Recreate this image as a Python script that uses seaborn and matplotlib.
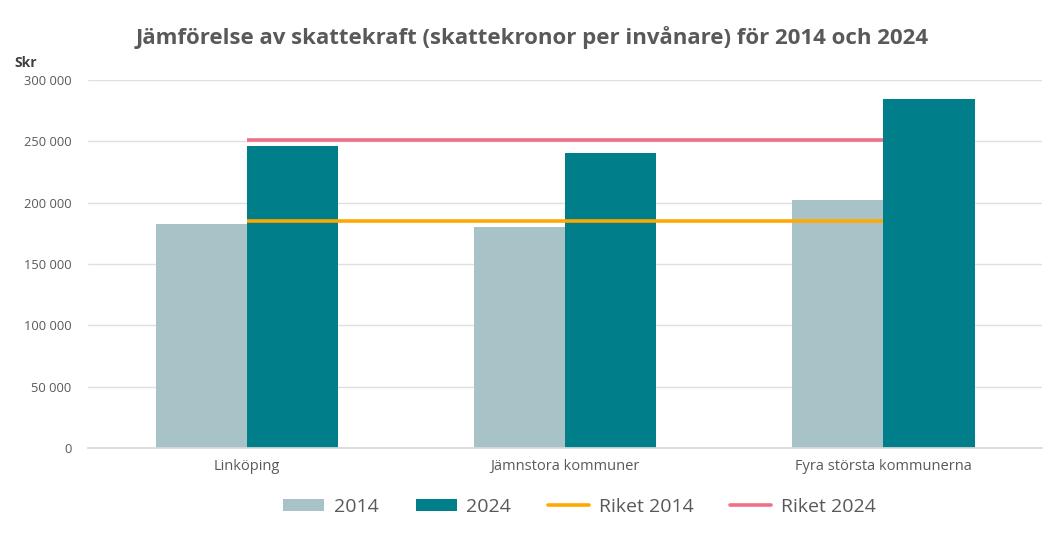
import pandas as pd
import seaborn as sns
import matplotlib.pyplot as plt
from matplotlib.ticker import FuncFormatter
from matplotlib.patches import Patch
from matplotlib.lines import Line2D

# data
categories = ['Linköping', 'Jämnstora kommuner', 'Fyra största kommunerna']
years = ['2014', '2024']
values_2014 = [183000, 180500, 202000]
values_2024 = [246000, 240500, 285000]
riket_2014 = [185500, 185500, 185500]
riket_2024 = [251000, 251000, 251000]

df = pd.DataFrame({
    'kategori': categories * 2,
    'år': ['2014'] * 3 + ['2024'] * 3,
    'skr': values_2014 + values_2024,
})

sns.set_theme(style='white')
plt.rcParams['font.family'] = ['Open Sans', 'DejaVu Sans']

grey = '#595959'
c14 = '#A8C3C8'
c24 = '#007F8A'
r14 = '#FFA800'
r24 = '#F0708A'

fig = plt.figure(figsize=(10.5, 5.49), dpi=100)
ax = fig.add_axes([0.0838, 0.184, 0.909, 0.67])

sns.barplot(data=df, x='kategori', y='skr', hue='år', palette=[c14, c24],
            width=0.573, gap=0, saturation=1, edgecolor='none', legend=False, ax=ax)

pos = list(range(len(categories)))
ax.plot(pos, riket_2014, color=r14, lw=2.6, solid_capstyle='butt', zorder=3)
ax.plot(pos, riket_2024, color=r24, lw=2.6, solid_capstyle='butt', zorder=3)

ax.set_xlim(-0.5, len(categories) - 0.5)
ax.set_ylim(0, 300000)
ax.set_yticks(range(0, 300001, 50000))
ax.yaxis.set_major_formatter(FuncFormatter(lambda v, p: f'{int(v):,}'.replace(',', ' ')))
ax.grid(axis='y', color='#E0E0E0', lw=1)
ax.set_axisbelow(True)
for s in ['top', 'right', 'left']:
    ax.spines[s].set_visible(False)
ax.spines['bottom'].set_color('#D9D9D9')
ax.tick_params(axis='y', labelsize=9.3, colors=grey, length=0, pad=12)
ax.tick_params(axis='x', labelsize=10.5, colors=grey, length=0, pad=8)
ax.set_xlabel('')
ax.set_ylabel('')

fig.text(0.507, 0.932, 'Jämförelse av skattekraft (skattekronor per invånare) för 2014 och 2024',
         ha='center', va='center', fontsize=16, fontweight='bold', color=grey)
fig.text(0.014, 0.885, 'Skr', ha='left', va='center', fontsize=10, fontweight='bold', color='#404040')

handles = [
    Patch(facecolor=c14, edgecolor='none'),
    Patch(facecolor=c24, edgecolor='none'),
    Line2D([0], [0], color=r14, lw=2.6),
    Line2D([0], [0], color=r24, lw=2.6),
]
labels = ['2014', '2024', 'Riket 2014', 'Riket 2024']
fig.legend(handles, labels, loc='center', bbox_to_anchor=(0.552, 0.077), ncol=4,
           frameon=False, fontsize=14, labelcolor=grey, handlelength=2.1,
           handleheight=0.6, columnspacing=1.9, handletextpad=0.5)

fig.savefig('out.png', dpi=100)
